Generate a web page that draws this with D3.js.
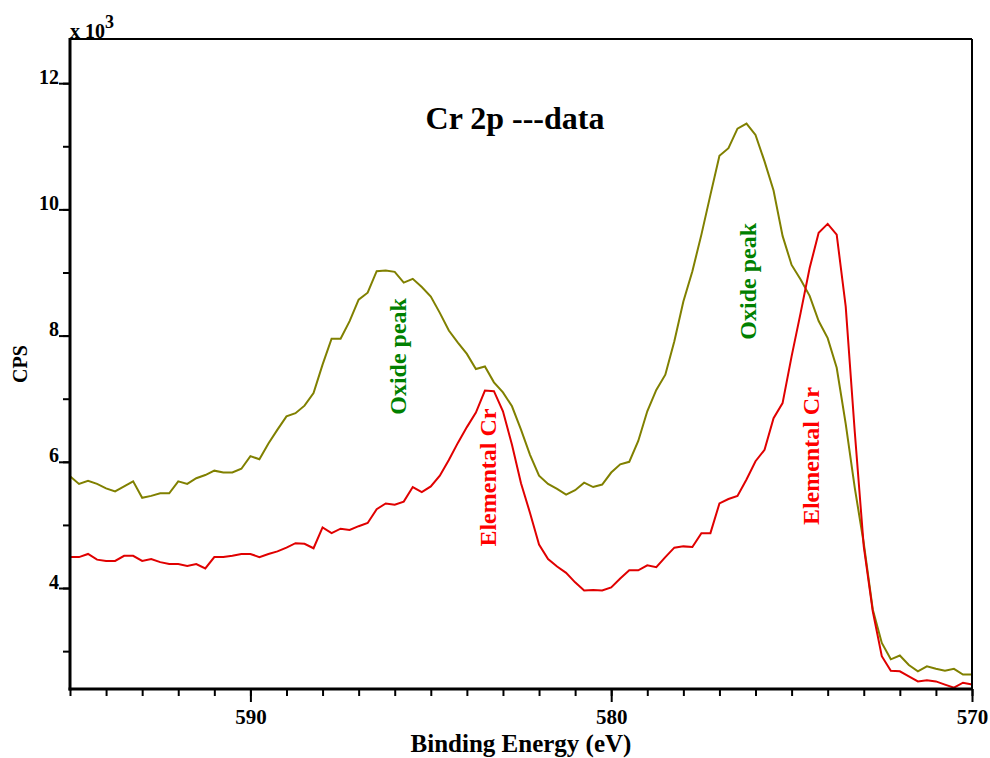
<!DOCTYPE html>
<html>
<head>
<meta charset="utf-8">
<style>
	body { margin: 0; background: #fff; }
	svg text { font-family: 'Liberation Serif', 'Times New Roman', serif; font-weight: bold; }
	.oxide { fill: none; stroke: #808000; stroke-width: 2; }
	.elemental { fill: none; stroke: #e00000; stroke-width: 2; }
</style>
</head>
<body>
<svg width="990" height="758"></svg>
<script src="https://d3js.org/d3.v7.min.js"></script>
<script>

// binding energy grid: 595 eV down to 570 eV, 0.25 eV step
var startEV = 595, stepEV = 0.25, nPoints = 101;
var energy = d3.range(nPoints).map(function (i) { return startEV - i * stepEV; });

// counts per second, in thousands (axis is x 10^3)
var oxideCps = [
	5.77, 5.65, 5.70, 5.65, 5.58, 5.53, 5.61, 5.69, 5.43, 5.46,
	5.50, 5.50, 5.69, 5.65, 5.74, 5.79, 5.86, 5.83, 5.83, 5.89,
	6.09, 6.04, 6.29, 6.51, 6.72, 6.77, 6.89, 7.09, 7.54, 7.95,
	7.95, 8.23, 8.57, 8.68, 9.02, 9.03, 9.01, 8.84, 8.90, 8.77,
	8.62, 8.36, 8.08, 7.89, 7.71, 7.47, 7.51, 7.26, 7.10, 6.88,
	6.51, 6.11, 5.78, 5.65, 5.57, 5.48, 5.55, 5.67, 5.60, 5.64,
	5.83, 5.96, 6.00, 6.33, 6.80, 7.14, 7.38, 7.91, 8.54, 9.02,
	9.60, 10.23, 10.85, 10.97, 11.28, 11.36, 11.18, 10.76, 10.30, 9.58,
	9.12, 8.89, 8.63, 8.23, 7.96, 7.49, 6.60, 5.59, 4.71, 3.66,
	3.13, 2.87, 2.93, 2.78, 2.68, 2.76, 2.72, 2.69, 2.72, 2.63,
	2.63
];

var elementalCps = [
	4.49, 4.49, 4.54, 4.45, 4.43, 4.43, 4.51, 4.51, 4.43, 4.46,
	4.41, 4.38, 4.38, 4.35, 4.38, 4.31, 4.49, 4.49, 4.51, 4.54,
	4.54, 4.49, 4.54, 4.58, 4.64, 4.71, 4.70, 4.63, 4.96, 4.87,
	4.94, 4.92, 4.98, 5.03, 5.25, 5.34, 5.32, 5.37, 5.60, 5.52,
	5.61, 5.78, 6.03, 6.30, 6.55, 6.78, 7.13, 7.12, 6.80, 6.27,
	5.66, 5.19, 4.69, 4.46, 4.34, 4.24, 4.09, 3.96, 3.97, 3.96,
	4.01, 4.15, 4.28, 4.28, 4.36, 4.33, 4.49, 4.64, 4.66, 4.65,
	4.87, 4.87, 5.34, 5.41, 5.46, 5.72, 6.01, 6.19, 6.69, 6.93,
	7.67, 8.36, 9.07, 9.63, 9.77, 9.60, 8.46, 6.48, 4.66, 3.63,
	2.92, 2.69, 2.68, 2.60, 2.52, 2.54, 2.52, 2.47, 2.42, 2.50,
	2.47
];

var xMajorTicks = [590, 580, 570];
var yMajorTicks = [4, 6, 8, 10, 12];

// peak labels: [text, eV, value (k cps), colour]
var peakLabels = [
	["Oxide peak", 585.7, 7.67, "#008000"],
	["Elemental Cr", 583.2, 5.75, "#ff0000"],
	["Oxide peak", 576.0, 8.86, "#008000"],
	["Elemental Cr", 574.25, 6.09, "#ff0000"]
];

var svg = d3.select("svg"),
margin = {
	top: 39,
	right: 18,
	bottom: 69,
	left: 70
},
width = +svg.attr("width") - margin.left - margin.right,
height = +svg.attr("height") - margin.top - margin.bottom,
g = svg.append("g").attr("transform", "translate(" + margin.left + "," + margin.top + ")");

var x = d3.scaleLinear()
	.domain([595, 570])
	.range([0, width]);

var y = d3.scaleLinear()
	.domain([2.4, 12.7])
	.range([height, 0]);

var line = function (vals) {
	return d3.line()
		.x(function (d, i) { return x(energy[i]); })
		.y(function (d) { return y(d); })(vals);
};

g.append("path").attr("class", "oxide").attr("d", line(oxideCps));
g.append("path").attr("class", "elemental").attr("d", line(elementalCps));

// x axis: minor tick every eV, longer ones with labels
var xAxis = g.append("g").attr("transform", "translate(0," + height + ")");
xAxis.call(d3.axisBottom(x).tickValues(d3.range(570, 596, 1)).tickSize(7).tickFormat(""));
xAxis.select(".domain").remove();
xAxis.selectAll("line").attr("stroke", "#000").attr("stroke-width", 2);
var xMaj = g.append("g").attr("transform", "translate(0," + height + ")")
	.call(d3.axisBottom(x).tickValues(xMajorTicks).tickSize(13).tickPadding(22).tickFormat(d3.format("d")));
xMaj.select(".domain").remove();
xMaj.selectAll("line").attr("stroke", "#000").attr("stroke-width", 2);
xMaj.selectAll("text").attr("fill", "#000").style("font-size", "21px").attr("dy", 0);

// y axis: minor tick every 1000, labels on even values
var yAxis = g.append("g").call(d3.axisLeft(y).tickValues(d3.range(3, 13, 1)).tickSize(7).tickFormat(""));
yAxis.select(".domain").remove();
yAxis.selectAll("line").attr("stroke", "#000").attr("stroke-width", 2);
var yMaj = g.append("g").call(d3.axisLeft(y).tickValues(yMajorTicks).tickSize(11).tickPadding(0).tickFormat(d3.format("d")));
yMaj.select(".domain").remove();
yMaj.selectAll("line").attr("stroke", "#000").attr("stroke-width", 2);
yMaj.selectAll("text").attr("fill", "#000").style("font-size", "20px").attr("x", -11).attr("dy", 0);

// frame
g.append("line").attr("x1", 0).attr("x2", width).attr("y1", 0).attr("y2", 0)
	.attr("stroke", "#000").attr("stroke-width", 2);
g.append("line").attr("x1", width).attr("x2", width).attr("y1", 0).attr("y2", height)
	.attr("stroke", "#000").attr("stroke-width", 2);
g.append("line").attr("x1", 0).attr("x2", 0).attr("y1", -1).attr("y2", height + 1.5)
	.attr("stroke", "#000").attr("stroke-width", 3);
g.append("line").attr("x1", -1.5).attr("x2", width + 1).attr("y1", height).attr("y2", height)
	.attr("stroke", "#000").attr("stroke-width", 3);

// peak labels
g.selectAll(".peak")
	.data(peakLabels)
	.enter().append("text")
	.attr("class", "peak")
	.attr("transform", function (d) {
		return "translate(" + x(d[1]) + "," + y(d[2]) + ") rotate(-90)";
	})
	.attr("text-anchor", "middle")
	.style("font-size", "24px")
	.attr("fill", function (d) { return d[3]; })
	.text(function (d) { return d[0]; });

// titles
svg.append("text")
	.attr("x", 515).attr("y", 129)
	.attr("text-anchor", "middle")
	.style("font-size", "32px")
	.text("Cr 2p ---data");

svg.append("text")
	.attr("x", margin.left + width / 2).attr("y", 752)
	.attr("text-anchor", "middle")
	.style("font-size", "25px")
	.text("Binding Energy (eV)");

svg.append("text")
	.attr("transform", "translate(26.5," + (margin.top + height / 2) + ") rotate(-90)")
	.attr("text-anchor", "middle")
	.style("font-size", "20px")
	.text("CPS");

var mult = svg.append("text")
	.attr("x", 70).attr("y", 38)
	.style("font-size", "20px")
	.text("x 10");
mult.append("tspan").attr("dy", -10).style("font-size", "18px").text("3");

</script>
</body>
</html>
